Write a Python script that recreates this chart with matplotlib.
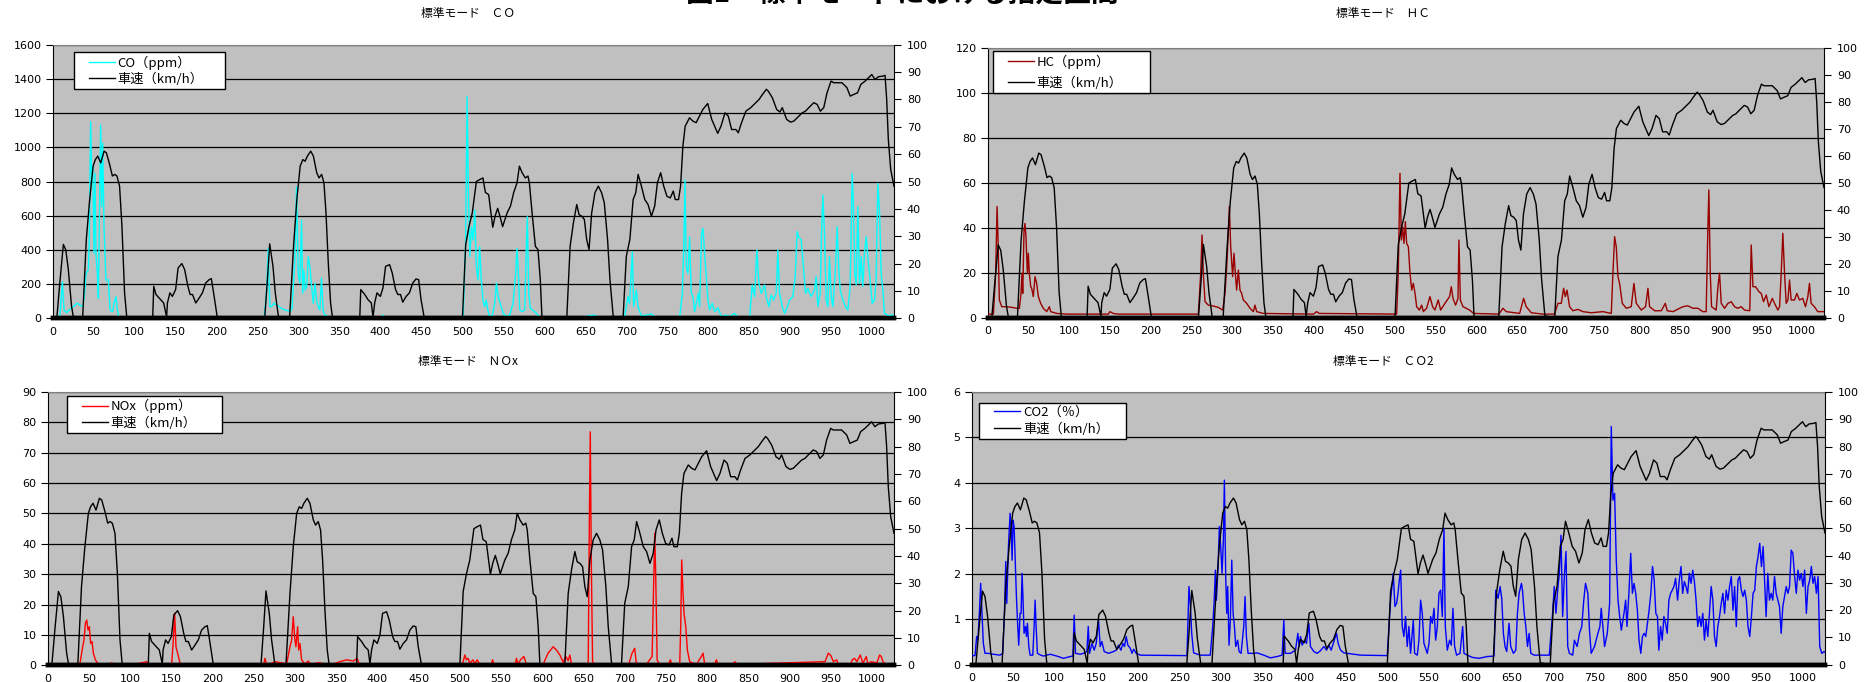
import matplotlib
matplotlib.use("Agg")
import matplotlib.pyplot as plt
from matplotlib.lines import Line2D
from matplotlib.legend_handler import HandlerLine2D

# ---------------- data (time [s], value) ----------------
SPEED = [(0,0),(5,0),(9,14),(13,27),(16,25),(19,18),(23,4.4),(25.5,0),(36.5,0),(41,28.8),(45,43),(49.3,55.6),
 (52,58),(55,59.3),(58.6,56.8),(62.7,61.1),(65.5,60.5),(69.5,56.2),(72.8,52),(75.6,52.6),(78.4,52),(81.6,48.3),
 (84.5,33.7),(87.7,9.3),(90.5,0),(122,0),(123.3,11.7),(126,8.7),(130,7.4),(135.4,5.6),(139,0.5),(140,5.6),(143,9.3),
 (146,8),(150,10.5),(153,18.4),(157.6,20),(161,17.8),(165,11.7),(167.7,8.7),(170.6,8.7),(174.6,5.6),(178.7,7.4),
 (182.7,9.3),(186.7,12.9),(190.8,14.1),(193.6,14.5),(197,8),(201,0),(258.7,0),(262,14),(264.8,27.2),(268.8,19),
 (271.6,9.3),(275.7,0),(289,0),(293.9,26.3),(297.9,43.4),(302,55.6),(305.2,58),(308,57.4),(310.8,59.3),(314.9,61.1),
 (318.1,59.3),(322.2,53.2),(325,51.3),(328.2,52.6),(331,49.5),(333.5,38.5),(336.3,20.2),(339.1,5.6),(341.5,0),
 (374.7,0),(375.9,10.5),(380.8,8.7),(384.8,6.8),(388.8,5.6),(390.9,0.5),(392.9,5.6),(395.7,9.3),(399.8,8),(403,11.1),
 (406.2,19),(411.1,19.6),(414.3,16.6),(418.4,10.5),(421.2,8.7),(424.4,8.7),(427.2,5.9),(431.3,8),(435.3,9.3),
 (439.4,12.9),(443.4,14.4),(446.6,14.1),(449.5,6.8),(453.5,0),(500,0),(504,27),(508,33.5),(512,38.5),(514,43),
 (517,50),(521,50.7),(525,51.3),(528,46),(532,45.2),(537,33.3),(540,37.5),(543,40.2),(546.5,36.5),(549,33.5),
 (554.5,38.5),(558.6,41),(562.6,46),(566.6,49.5),(569.5,55.6),(572.8,53.2),(576.8,51.3),(580,52),(581.7,49.5),
 (585,38.5),(589,26.3),(592.2,25.1),(595,14.1),(597,0.7),(599,0),(627.3,0),(631.4,26.3),(635.4,34.9),(639.5,41.6),
 (642.3,37.9),(645.6,37.3),(648.8,36.1),(651.6,28.8),(654.5,25.1),(657.7,38.5),(661.7,45.9),(665.8,48.3),
 (669.8,45.9),(673.1,42.2),(677.1,28.8),(680,14.1),(684,0.7),(696,0),(700,22.7),(704.3,28.8),(708.3,43.4),
 (711.5,45.9),(714.4,52.6),(718.4,48.3),(722.5,43.4),(726.5,41.6),(730.6,37.3),(734.6,41),(737.9,49.5),
 (741.9,53.2),(745.6,48.3),(749.6,44.6),(753.6,44),(757.3,46.5),(759.7,43.4),(763.7,43.4),(766.2,48.3),(769,62.9),
 (771.8,70.2),(777.1,73.3),(781.1,72.1),(785.2,71.5),(789.2,73.9),(793.3,76.3),(799.3,78.5),(804.2,72.7),
 (811.5,67.6),(815.5,70.2),(820.4,75.1),(824.4,73.9),(828.5,69),(833.7,69),(836.6,67.8),(840.6,71.5),(845.9,75.7),
 (851.9,77),(858,78.8),(862,80),(866.1,81.8),(870.9,83.7),(873.3,83),(878.2,80.6),(883.5,76.3),(887.5,75.4),
 (890.3,77),(895.6,72.7),(900.4,71.7),(904.5,72.1),(910.5,73.9),(914.6,75.1),(918.6,75.7),(922.7,77),(928.7,78.8),
 (932.8,78.2),(936.8,75.7),(940.9,77),(944.9,82.4),(949.8,86.7),(953,86.1),(957.9,86.1),(963.1,86.1),(969.2,84.3),
 (973.2,81.2),(977.3,81.8),(982.1,82.4),(986.2,85.5),(991.4,86.7),(995.5,87.9),(999.5,89.1),(1003.5,87.3),
 (1007.6,88.3),(1012.8,88.5),(1015.7,88.8),(1017.7,80),(1019.7,65.4),(1022.6,54.4),(1026.6,48.3)]

CO = [(0,0),(7,0),(9,30),(11.8,214),(13.8,49),(17,33),(21,53),(25,68),(30,88),(33,78),(36.6,68),(38.5,120),(40.7,263),
 (43.5,283),(44.7,458),(46.3,1150),(47.6,809),(48.8,887),(50.4,380),(51.6,848),(52.8,380),(54.5,263),(55.7,117),
 (56.9,536),(58.5,1130),(59.8,653),(61,1023),(62.6,536),(65,224),(67.9,224),(70,49),(73,39),(74.8,88),(77.2,127),
 (78.9,49),(80.5,10),(84,0),(90,5),(95,0),(122,0),(201,0),(258,0),(261,150),(263,409),(265,68),(267,68),(270,88),
 (273,78),(276.4,68),(279,58),(283,49),(287,45),(290,39),(292,58),(295.5,341),(297.6,770),(299.6,263),(301.6,205),
 (303.7,575),(305,146),(306.5,283),(308,166),(310,185),(311.8,360),(313.8,302),(316,185),(318,88),(320,205),(322,107),
 (324,68),(326,49),(328,234),(330,49),(332,19),(336,10),(340,0),(400,0),(403,19),(405,0),(500.8,0),(504,458),
 (505.7,1296),(507.3,750),(509,360),(511,536),(513,458),(515,633),(517,302),(519,224),(521,419),(523,224),(525,107),
 (527,68),(529,107),(531,49),(533,10),(536.6,19),(539.4,88),(541.5,205),(543.5,127),(545.5,97),(549.6,29),
 (553.6,10),(557.7,19),(561.8,88),(565,263),(566.6,409),(568.3,263),(569.9,49),(573.1,39),(576,49),(578,419),
 (579.2,594),(580.9,146),(582.9,58),(585.3,49),(588.2,39),(590.2,29),(593.5,10),(596.3,0),(625,0),(630.9,10),
 (645,5),(659.3,19),(667.5,6),(675,0),(695,0),(697.9,10),(702,127),(704,88),(707.3,390),(708.9,68),(712.2,166),
 (714.2,68),(718.3,14),(724.4,19),(730.5,25),(734.5,10),(750,3),(765,4),(768.3,146),(770.3,458),(771.5,809),
 (773.1,302),(775.2,263),(777.2,477),(779.2,146),(781.3,127),(783.3,39),(786.1,107),(787.8,146),(789.4,68),
 (791.8,497),(793.5,526),(795.5,380),(797.5,244),(799.6,107),(801.6,49),(804.8,88),(807.7,39),(811.8,62),
 (815.8,10),(821.9,19),(826,10),(832.1,29),(836.1,5),(850.4,4),(853.6,195),(856.5,127),(859.3,400),(861.8,205),
 (864.6,146),(868.7,195),(870.7,127),(874,68),(876.8,136),(879.6,107),(882.9,146),(884.9,400),(887,146),(890.2,68),
 (893.1,29),(895.9,58),(899.2,107),(903.2,127),(906.1,244),(908.5,507),(910.1,477),(913.4,458),(915.4,341),
 (918.7,146),(921.5,175),(925.6,127),(929.6,166),(931.7,244),(933.7,68),(936.6,146),(938.2,497),(939.8,721),
 (941.8,497),(943.9,107),(945.9,68),(947.9,360),(950,127),(952,68),(954.9,263),(957.3,536),(959.3,283),(961,166),
 (964.2,107),(967.5,68),(970.3,49),(973.1,185),(975.6,848),(977.2,653),(978.8,263),(980.5,195),(982.5,653),
 (984.5,205),(986.6,360),(988.6,185),(990.6,380),(992.7,477),(994.7,360),(996.7,263),(1000,88),(1002.8,107),
 (1004.8,224),(1006.9,789),(1008.9,633),(1011,263),(1013,166),(1015,29),(1020,15),(1026.6,20)]

HC = [(0,1.6),(7,1.6),(9.8,19.8),(11.5,49.5),(12.7,34.6),(14.3,7.9),(17.2,4.9),(23.3,4.9),(29.5,4.6),(35.6,4.2),
 (38.9,4.2),(40.9,10.8),(42.1,19.8),(43,10.8),(44.6,39),(45.8,42),(47,36),(48.7,19.8),(49.9,28.7),(51.1,19.8),
 (52.8,13.8),(54,13.1),(56,9.4),(58.1,18.3),(60.1,15.3),(62.2,9.4),(65,6.4),(68.3,4.2),(72.4,2.7),(75.7,4.9),
 (77.3,2.7),(84.7,1.9),(97,1.6),(148,1.6),(150.2,2.7),(154,1.9),(160,1.6),(258.6,1.6),(261.5,19.8),(263.1,36.8),
 (264.7,19.8),(266.8,7.1),(270.9,5.6),(277,5.2),(283.1,4.6),(288.5,3.4),(291.3,10.8),(293.4,22.7),(294.6,31.6),
 (296.6,49.5),(298.3,31.6),(300.7,18.3),(302.3,28.7),(304,19.8),(305.6,12.3),(307.7,21.2),(309.7,12.3),(311.8,10.8),
 (313.8,7.9),(317.9,6.4),(322,4.2),(326.1,2.7),(328.1,5.6),(330.2,2.7),(338.4,1.9),(400,1.6),(403.8,2.7),(407,1.9),
 (502,1.6),(504,19.8),(506.1,64.3),(507.8,34.6),(509.4,40.5),(511,33.1),(512.7,42.8),(514.3,33.1),(516.4,31.6),
 (518.4,19.8),(520.5,12.3),(522.5,15.3),(524.6,10.8),(526.6,4.9),(529.9,3.4),(532.7,5.6),(534.8,2.7),(538.8,4.2),
 (542.9,9.4),(546.2,4.9),(549,3.4),(553.1,7.9),(556,3.4),(561.3,6.4),(567,9.4),(569.1,13.8),(571.2,8.6),(574.4,5.6),
 (577.3,8.6),(578.5,34.6),(580.2,7.9),(583.4,4.9),(587.5,4.2),(591.6,3.4),(596.5,1.9),(627.6,1.6),(632.5,4.2),
 (636.6,2.7),(653,1.9),(657.9,8.6),(661.1,4.9),(667.3,2.2),(681.6,1.6),(695.9,1.6),(700,6.4),(704.1,6.4),(707,13.1),
 (709,9.4),(711.1,12.3),(714.3,4.9),(718.4,3.1),(724.6,3.7),(730.7,2.7),(740.9,2.2),(755.2,2.7),(765.5,1.9),
 (767.5,19.8),(769.6,36.1),(771.6,31.6),(773.7,18.3),(775.7,15.3),(779,6.4),(783.9,4.2),(790,4.9),(793.3,15.3),
 (796.2,6.4),(802.3,3.4),(807.6,4.9),(810.5,13.1),(812.5,4.9),(818.7,3.1),(826.9,3.1),(831.8,6.4),(834.2,3.1),
 (841.2,2.7),(853.4,4.9),(859.5,5.3),(865.7,4.2),(871.8,4.2),(877.9,2.7),(882,2.7),(884.1,40.5),(885.3,56.9),
 (887,19.8),(888.6,4.9),(894.3,3.4),(896.4,13.8),(898.4,19.8),(900.5,6.4),(904.6,4.2),(908.7,6.4),(912.8,7.1),
 (916.8,4.9),(920.9,4.2),(925,4.9),(929.1,3.4),(935.5,3.1),(937.3,32.4),(939.4,13.8),(942.6,13.8),(946.7,11.6),
 (949.6,10.8),(952.4,7.1),(955.7,10.1),(959,4.9),(963.1,8.6),(965.9,6.4),(970,3.4),(972.1,4.9),(974.1,19.8),
 (976.1,37.6),(978.2,19.8),(980.2,6.4),(982.3,7.9),(984.3,16.8),(986.3,7.9),(990.4,7.9),(993.3,10.8),(996.5,7.9),
 (1000.6,8.6),(1003.9,4.9),(1006.8,9.4),(1008.8,15.3),(1010.8,6.4),(1014.9,4.9),(1019,2.7),(1026.6,2.7)]

NOX = [(0,0.3),(39,0.3),(42.4,6.1),(44,8.3),(45.7,13.8),(47.3,14.9),(48.9,11.6),(50.5,12.7),(52.1,7.2),(53.8,7.8),
 (55.4,4),(57.8,1.8),(61.4,0.4),(76,0.4),(77.6,0.9),(79,0.3),(105,0.4),(112,0.7),(120,1.2),(123.3,0.3),(150.4,0.4),
 (152.4,8.3),(154,17.1),(155.6,6.1),(157.6,4),(160.5,0.7),(163,0.3),(262,0.3),(263.5,2.3),(265.6,0.3),(270,0.5),
 (275.7,1.2),(281.7,0.9),(289.8,0.4),(293.9,6.1),(295.9,8.3),(297.9,16),(299.5,9.4),(301.1,6.1),(303.2,12.7),
 (304.4,5),(306,7.2),(308,1.8),(312,0.4),(316,1.4),(319,0.3),(330.2,0.9),(335,0.3),(345,0.3),(354.5,1.2),(362.6,1.8),
 (370.7,1.4),(375.5,2.3),(378,0.3),(502,0.3),(504,1.2),(506,3.4),(508,1.8),(510,2.3),(512,0.7),(516,1.8),(518,0.5),
 (521,1.8),(524,0.3),(538,0.3),(539.6,1.8),(541.5,0.3),(567,0.3),(568.7,2.3),(570.5,0.3),(573.5,1.8),(577.6,2.9),
 (580.8,0.3),(601,0.3),(607,4),(613.2,6.1),(617.2,5),(621.3,3.4),(625.3,1),(628.6,2.9),(631.4,1.5),(633.4,3.4),
 (635.5,0.3),(655.7,0.3),(657,45.7),(658.2,76.9),(659.4,34.7),(661,1.2),(663,0.3),(705,0.5),(708.9,4),(712.1,5.6),
 (713.8,1.2),(716,0.3),(727.1,0.6),(733.2,2.9),(735.2,29.2),(736.4,43.5),(737.6,29.2),(739.3,1.8),(742,0.3),
 (753,0.5),(755.4,1.8),(757,0.3),(766.7,0.3),(767.9,12.7),(769.1,34.7),(770.7,23.7),(771.9,17.1),(774,12.7),
 (776,5),(778.8,1.2),(786.9,0.3),(793,2.9),(795,4),(797,0.3),(809,0.3),(811.2,1.8),(813,0.5),(831,0.3),(833.7,1.2),
 (836,0.3),(943,1.2),(947,4),(950.3,3.1),(953,1.2),(957.1,1.8),(959,0.3),(974,0.3),(976,1.8),(978.8,2.3),
 (981.6,1.2),(985.7,3.4),(988.9,0.6),(993,2.9),(995,0.5),(999,1.2),(1005.9,0.8),(1009.2,3.4),(1011.2,2.9),
 (1013.2,1.2),(1017,0.3),(1026.6,0.3)]

CO2 = [(0,0.2),(4,0.2),(6,0.62),(7.5,0.55),(9.2,1.13),(10.8,1.79),(12.4,1.13),(14,0.47),(16,0.25),(20,0.25),(26,0.23),
 (34,0.21),(37.3,0.25),(39.4,1.13),(41,2.27),(42.2,1.35),(44.2,2.6),(46.2,3.33),(47.4,3.04),(48.6,2.3),(49.8,3.18),
 (51,3.04),(52.6,2.16),(53.8,1.5),(55.4,0.84),(56.6,0.43),(58.2,1.13),(59.4,1.13),(60.6,2.01),(61.8,1.42),(63,0.69),
 (64.7,0.84),(65.9,0.62),(67,0.91),(68.7,0.4),(70.3,0.21),(73.5,0.21),(75.1,0.84),(76.3,1.42),(77.5,0.84),(79.1,0.25),
 (83.1,0.21),(86.3,0.19),(94.4,0.23),(102.4,0.19),(110.4,0.14),(118.5,0.18),(121.7,0.19),(123.3,1.09),(124.9,0.25),
 (130.5,0.23),(134.5,0.25),(138.6,0.29),(140.2,0.84),(141.8,0.25),(144.6,0.47),(147.4,0.32),(149.8,0.47),
 (152.6,0.98),(154.6,0.4),(156.6,0.51),(159.4,0.29),(164.7,0.25),(170.7,0.29),(173.9,0.32),(176.7,0.43),(179.5,0.32),
 (181.9,0.47),(183.9,0.4),(185.9,0.62),(187.9,0.43),(190.8,0.36),(192.8,0.25),(194.8,0.34),(198,0.25),(202.8,0.21),
 (259,0.2),(260.2,0.98),(261.4,1.72),(263,1.35),(264.7,0.69),(267,0.26),(275,0.21),(287,0.21),(290,0.84),
 (291.6,1.35),(293.2,2.08),(294.4,1.42),(296.4,2.16),(298,3.04),(299.6,2.6),(301.2,2.01),(302.8,2.74),(304,4.06),
 (305.6,1.94),(306.8,1.13),(308,1.72),(309.6,0.43),(311.2,0.98),(312.9,2.3),(314.5,1.13),(316.1,0.84),(317.7,0.4),
 (320,0.54),(321.7,0.29),(324.1,0.25),(327.3,0.84),(328.9,1.5),(330.5,0.62),(332.5,0.25),(339.4,0.25),(343.4,0.26),
 (351.4,0.21),(359.4,0.15),(367.5,0.18),(373.5,0.21),(375.5,0.98),(377.1,0.25),(383.5,0.25),(389.6,0.32),
 (392.4,0.69),(394,0.4),(395.6,0.62),(397.6,0.43),(400.4,0.54),(402.8,0.47),(405.6,0.91),(407.6,0.4),(411.6,0.29),
 (415.7,0.25),(419.7,0.31),(423.7,0.4),(426.9,0.32),(429.7,0.43),(432.5,0.32),(435.7,0.51),(438.9,0.69),(440.9,0.47),
 (443.8,0.32),(447.8,0.26),(451.8,0.25),(459.8,0.23),(467.9,0.21),(500,0.2),(502,0.84),(504,1.42),(505.6,1.72),
 (507.2,2.01),(509.2,1.28),(511.2,1.35),(512.9,1.57),(514.5,1.86),(516.1,2.08),(518,0.84),(520,0.62),(522,1.06),
 (524,0.4),(526,0.84),(528,0.25),(531.3,0.98),(532.9,0.25),(536.1,0.21),(538.1,0.54),(540.1,1.42),(542.1,1.13),
 (544.1,0.47),(548.1,0.25),(550.2,0.47),(552.2,1.06),(554.2,0.91),(556.2,1.24),(558.2,0.54),(560.2,0.84),
 (562.2,1.57),(564.2,1.64),(566.2,1.06),(568.2,3.0),(569.8,0.84),(572.2,0.32),(575,0.54),(577,0.43),(579,1.24),
 (581,0.4),(583.4,0.21),(587.5,0.25),(590.7,0.84),(592.3,0.25),(596.3,0.21),(602.4,0.16),(610.4,0.14),(620.4,0.18),
 (628.5,0.19),(630.5,1.64),(633.3,1.46),(635.7,1.72),(637.7,1.46),(639.7,0.69),(641.7,0.4),(643.7,0.29),(646.5,0.91),
 (648.5,0.4),(651.8,0.25),(654.6,0.32),(656.6,1.13),(658.6,1.57),(661.4,1.79),(662.7,1.64),(664.7,1.13),(666.7,0.84),
 (668.7,0.4),(670.7,0.69),(672.7,0.25),(676.8,0.21),(684.8,0.21),(694.9,0.21),(698.9,1.13),(700.9,1.72),(702.9,1.13),
 (705,1.64),(707,2.01),(709,2.85),(711,1.06),(713,1.94),(715,2.49),(717.1,0.4),(719.1,0.25),(723.1,0.21),(725.1,0.54),
 (728.4,0.4),(731.2,0.69),(734,0.84),(736.4,1.42),(738.5,1.79),(741.3,1.57),(743.3,0.76),(745.3,0.25),(749.3,0.4),
 (753.4,0.69),(755.8,0.84),(757.4,1.24),(759.4,0.84),(761.4,0.4),(764.7,0.69),(767.5,1.35),(769.5,5.24),(771.5,3.62),
 (773.5,3.77),(775.5,2.3),(777.6,1.42),(779.6,1.06),(781.6,0.76),(784.8,1.13),(786.8,1.42),(788.4,0.84),(790.9,1.64),
 (792.9,2.45),(794.9,1.57),(796.9,1.79),(798.9,1.57),(800.9,1.2),(802.9,0.54),(805,0.25),(807,0.62),(809,0.69),
 (811,0.62),(813,0.91),(815,1.2),(817.1,1.57),(819.1,2.16),(821.1,1.86),(823.1,1.13),(825.1,1.06),(826.7,0.32),
 (828.8,0.84),(830.8,0.54),(832.8,1.06),(834.8,0.91),(836.8,0.69),(838.8,1.42),(840.9,1.57),(842.9,1.64),
 (844.9,1.72),(846.9,1.9),(849.3,1.42),(851.3,1.86),(853.4,2.16),(855.4,1.57),(857.4,1.83),(859.4,1.72),(861.4,1.57),
 (863.4,2.01),(865.5,1.79),(867.5,2.08),(869.5,1.83),(871.5,1.42),(873.5,0.84),(875.5,1.06),(877.6,0.84),(879.6,1.13),
 (881.6,0.54),(883.6,0.98),(885.6,0.62),(887.6,1.13),(889.7,1.72),(891.7,1.42),(893.7,0.62),(895.7,0.4),(897.7,0.84),
 (899.7,1.06),(901.8,1.35),(903.8,1.57),(905.8,1.13),(907.8,1.64),(909.8,1.42),(911.8,1.72),(913.9,1.94),(915.9,1.2),
 (917.9,1.72),(919.9,0.84),(921.9,1.86),(923.9,1.94),(926,1.64),(928,1.5),(930,1.64),(932,1.42),(934,0.84),
 (936.1,0.62),(938.1,1.06),(940.1,1.57),(942.1,1.64),(944.1,2.16),(946.1,2.38),(948.1,2.67),(950.2,2.16),(952.2,2.6),
 (954.2,1.72),(955.8,1.06),(957.8,2.01),(959.8,1.42),(961.8,1.57),(963.8,1.42),(965.9,1.94),(967.9,1.57),
 (969.9,1.42),(971.9,1.28),(973.9,0.69),(975.9,1.28),(978,1.5),(980,1.72),(982,1.57),(984,1.72),(986,2.52),(988,2.45),
 (990.1,1.94),(992.1,1.57),(994.1,2.08),(996.1,1.86),(998.1,2.01),(1000.1,1.72),(1002.1,2.08),(1004.2,1.13),
 (1006.2,1.72),(1008.2,1.86),(1010.2,2.16),(1012.2,1.79),(1014.2,1.94),(1016.3,1.57),(1018.3,1.94),(1020.3,0.4),
 (1022.7,0.25),(1025.5,0.29),(1027,0.27)]

SPEED_LABEL = "車速（km/h）"
X_TICKS = list(range(0, 1001, 50))
SPEED_TICKS = list(range(0, 101, 10))
MAIN_TITLE = "図1　標準モードにおける指定区間"

PANELS = [
    dict(series=CO, label="CO（ppm）", color="#00FFFF", ymax=1600, ystep=200,
         title="標準モード　ＣＯ", box=(52.7, 44.7, 894.3, 318.3), title_xy=(468, 14),
         leg=(74, 52.3, 151), lsp=0.2),
    dict(series=HC, label="HC（ppm）", color="#990000", ymax=120, ystep=20,
         title="標準モード　ＨＣ", box=(987.7, 48.3, 1824.3, 317.7), title_xy=(1383, 14),
         leg=(992.7, 51.0, 157), lsp=0.6),
    dict(series=NOX, label="NOx（ppm）", color="#FF0000", ymax=90, ystep=10,
         title="標準モード　ＮＯx", box=(47.7, 392.0, 894.3, 665.3), title_xy=(468, 362),
         leg=(66.7, 395.7, 155), lsp=0.25),
    dict(series=CO2, label="CO2（％）", color="#0000FF", ymax=6, ystep=1,
         title="標準モード　ＣＯ2", box=(971.7, 392.0, 1825.3, 664.7), title_xy=(1383, 362),
         leg=(979.3, 402.7, 147), lsp=0.25),
]

W, H = 1870, 682
CJK = ["Noto Sans CJK JP", "DejaVu Sans"]
plt.rcParams["font.family"] = ["DejaVu Sans"]

fig = plt.figure(figsize=(W / 100, H / 100), dpi=100)

st, sv = zip(*SPEED)
for p in PANELS:
    x0, y0, x1, y1 = p["box"]
    ax = fig.add_axes([x0 / W, 1 - y1 / H, (x1 - x0) / W, (y1 - y0) / H])
    ax.set_facecolor("#C0C0C0")
    t, v = zip(*p["series"])
    ax.plot(t, v, color=p["color"], lw=1.0, zorder=3)
    ax.set_xlim(0, 1027)
    ax.set_ylim(0, p["ymax"])
    yt = [i * p["ystep"] for i in range(int(round(p["ymax"] / p["ystep"])) + 1)]
    ax.set_yticks(yt)
    ax.set_yticklabels([("%g" % y) for y in yt])
    ax.set_xticks(X_TICKS)
    ax.set_xticklabels([str(x) for x in X_TICKS])
    ax.grid(axis="y", color="black", lw=0.9, zorder=1)
    ax.set_axisbelow(True)
    ax.tick_params(axis="y", direction="out", length=5, width=0.8, labelsize=8, pad=3)
    ax.tick_params(axis="x", length=0, labelsize=8, pad=6)
    ax.spines["left"].set_color("black")
    ax.spines["left"].set_linewidth(0.8)
    ax.spines["top"].set_color("#808080")
    ax.spines["top"].set_linewidth(0.8)
    ax.spines["right"].set_visible(False)
    ax.spines["bottom"].set_color("black")
    ax.spines["bottom"].set_linewidth(3.2)

    ax2 = ax.twinx()
    ax2.plot(st, sv, color="black", lw=1.0)
    ax2.set_ylim(0, 100)
    ax2.set_yticks(SPEED_TICKS)
    ax2.set_yticklabels([str(y) for y in SPEED_TICKS])
    ax2.tick_params(axis="y", direction="out", length=5, width=0.8, labelsize=8, pad=4)
    ax2.spines["right"].set_color("black")
    ax2.spines["right"].set_linewidth(0.8)
    for s in ("top", "left"):
        ax2.spines[s].set_visible(False)
    ax2.spines["bottom"].set_color("black")
    ax2.spines["bottom"].set_linewidth(3.2)
    ax2.set_xlim(0, 1027)

    handles = [Line2D([], [], color=p["color"], lw=1.0),
               Line2D([], [], color="black", lw=1.0)]
    lx, ly, lw_ = p["leg"]
    leg = ax2.legend(handles, [p["label"], SPEED_LABEL], loc="upper left",
                     bbox_to_anchor=(lx / W, 1 - ly / H - 0.2, lw_ / W, 0.2),
                     bbox_transform=fig.transFigure, mode="expand", borderaxespad=0,
                     frameon=True, fancybox=False, shadow=False, edgecolor="black",
                     facecolor="white", framealpha=1, borderpad=0.25,
                     labelspacing=p["lsp"], handlelength=2.86, handletextpad=0.2,
                     handler_map={Line2D: HandlerLine2D(xpad=0.89)},
                     prop={"family": CJK, "size": 9.5})
    leg.get_frame().set_linewidth(1.0)

    tx, ty = p["title_xy"]
    fig.text(tx / W, 1 - ty / H, p["title"], ha="center", va="center",
             fontsize=8.5, family=CJK)

fig.text(902 / W, 1 - 2 / H, MAIN_TITLE, ha="center", va="baseline",
         fontsize=20, fontweight="bold", family=CJK)

fig.savefig("out.png", dpi=100)
